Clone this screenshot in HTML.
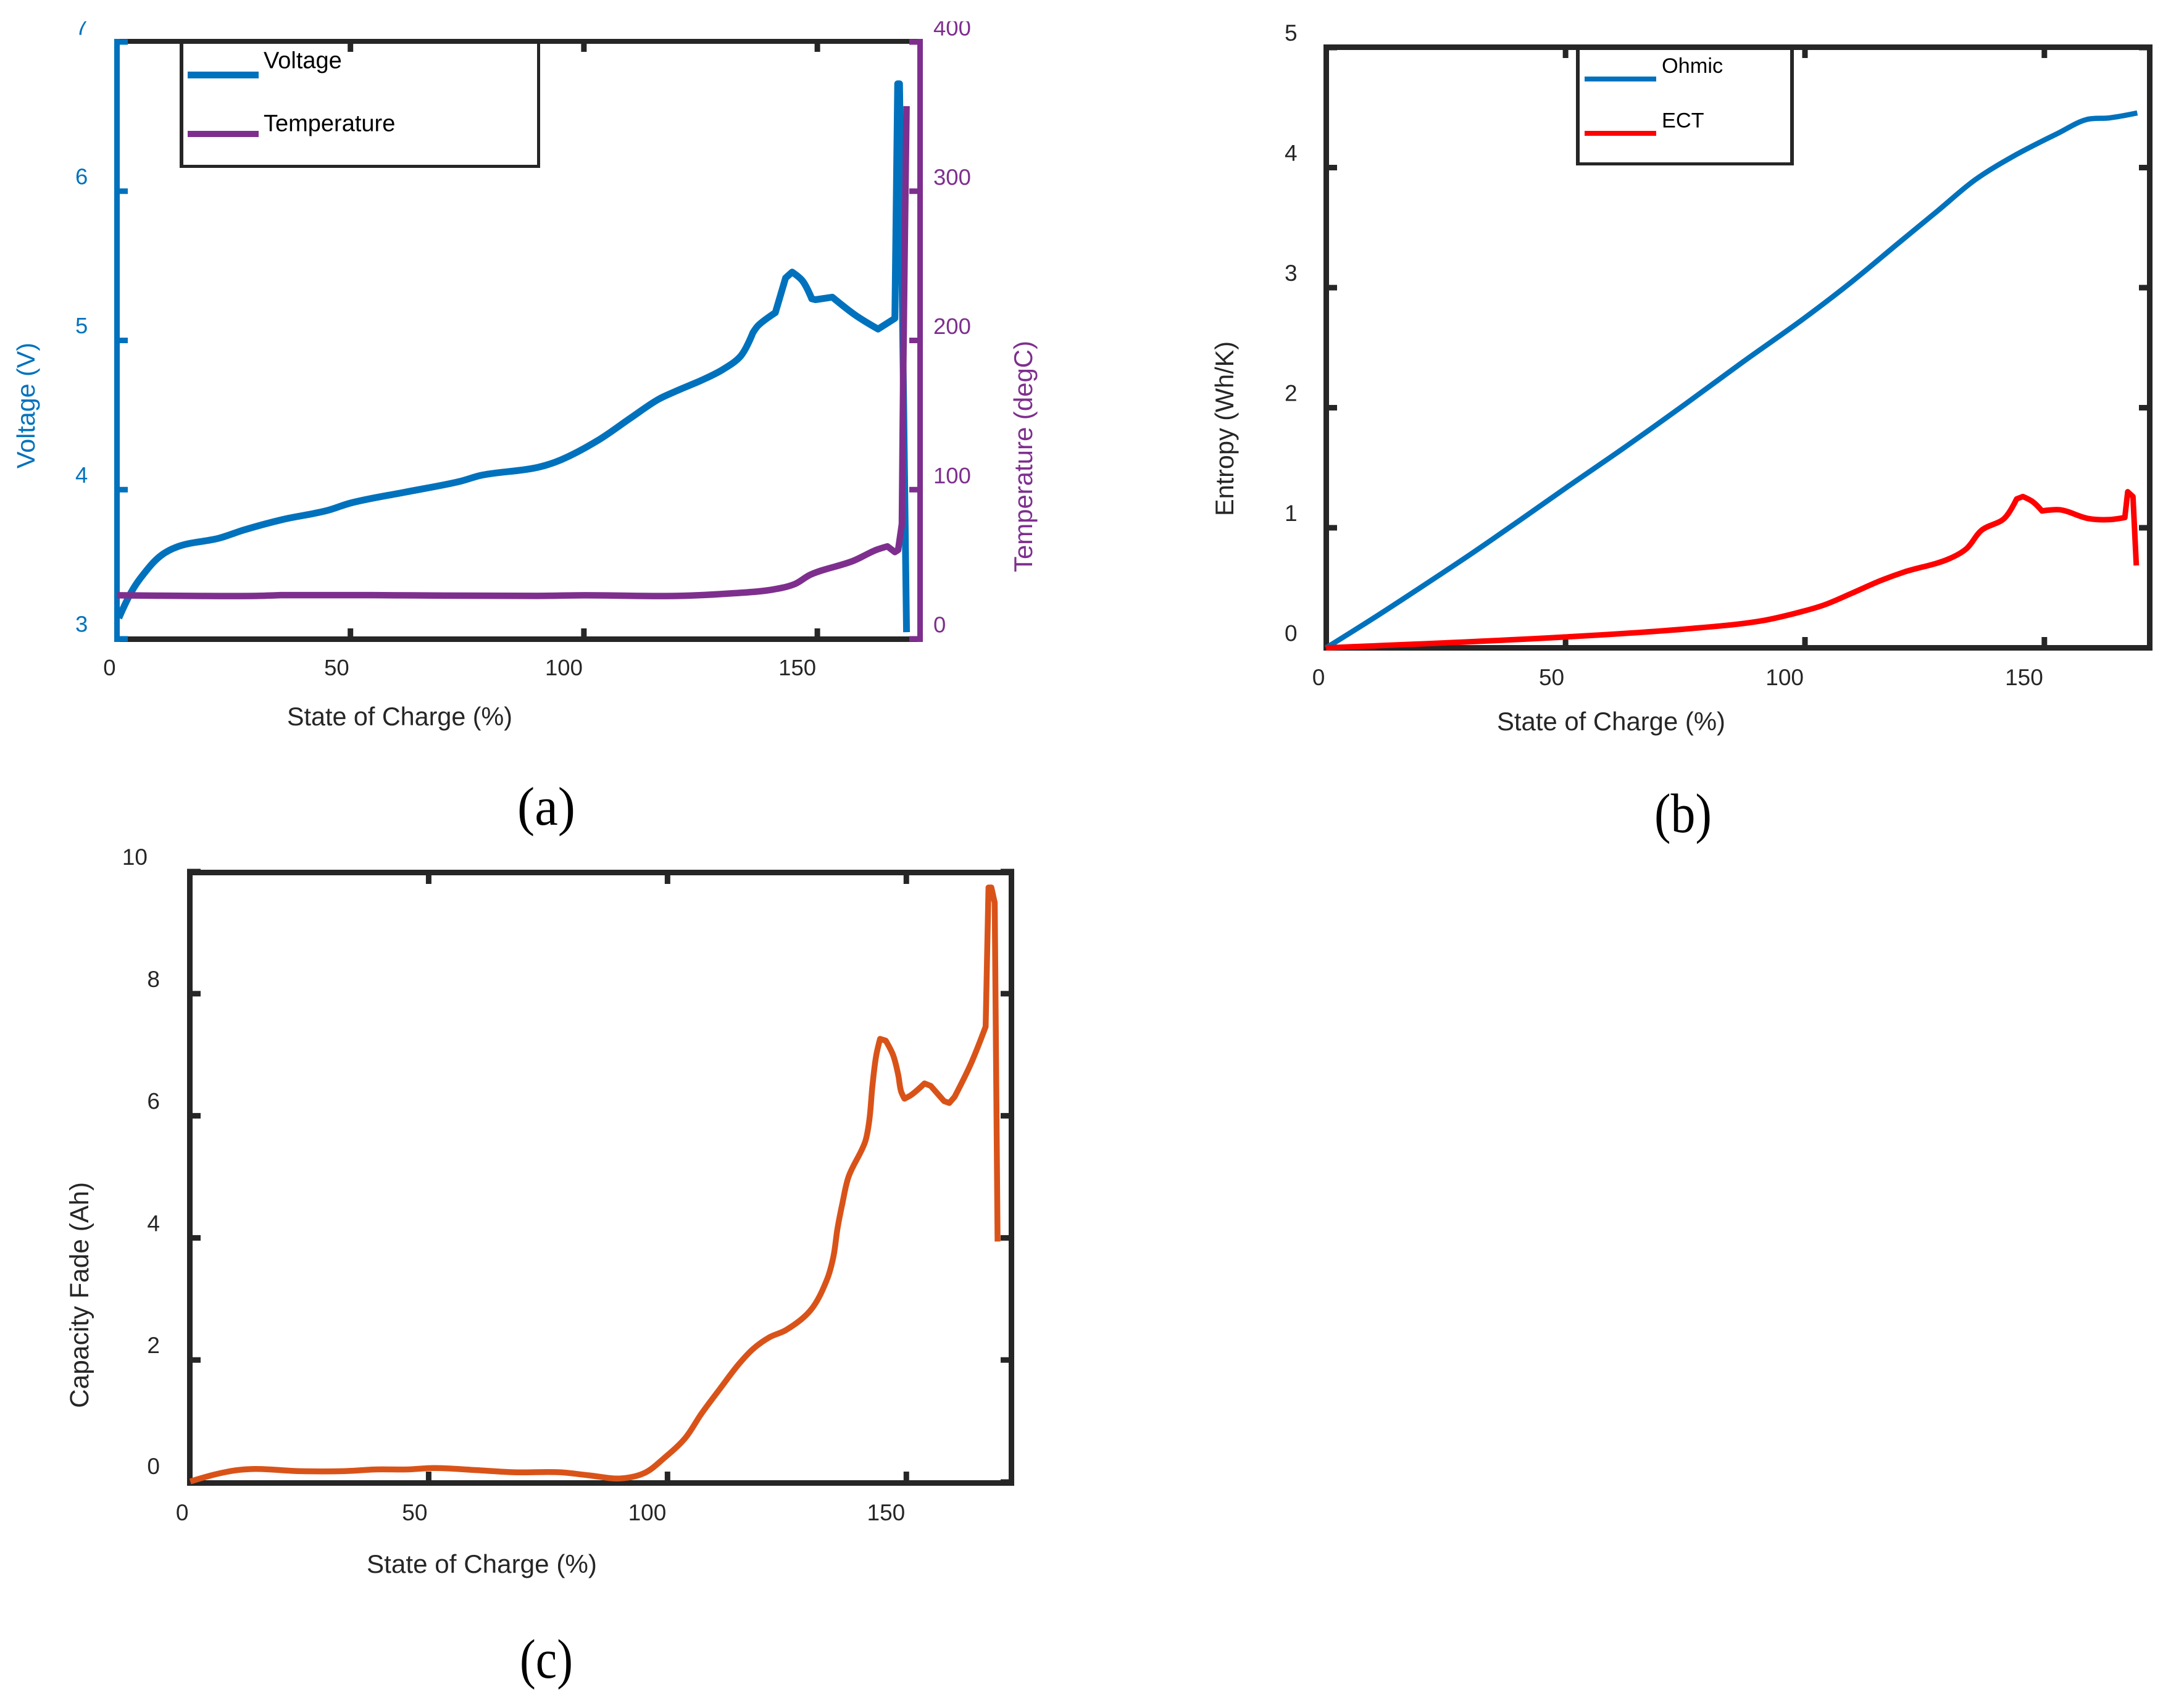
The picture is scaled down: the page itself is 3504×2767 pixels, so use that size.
<!DOCTYPE html>
<html lang="en">
<head>
<meta charset="utf-8">
<title>Battery state of charge charts</title>
<style>
html,body{margin:0;padding:0;background:#fff;}
svg{display:block;}
text{font-family:"Liberation Sans",Arial,sans-serif;}
.cap{font-family:"Liberation Serif","Times New Roman",serif;fill:#000;}
</style>
</head>
<body>
<svg id="figure" xmlns="http://www.w3.org/2000/svg" width="3504" height="2767" viewBox="0 0 3504 2767">
  <defs>
    <clipPath id="clip-a"><rect x="0" y="34.5" width="1700" height="1300"/></clipPath>
  </defs>
  <rect x="0" y="0" width="3504" height="2767" fill="#fff"/>
  <g id="panel-a"></g>
  <g id="panel-b"></g>
  <g id="panel-c"></g>

  <text x="465" y="1175" font-size="41.5" fill="#262626" textLength="365" lengthAdjust="spacingAndGlyphs">State of Charge (%)</text>
  <text transform="translate(56,759) rotate(-90)" font-size="41" fill="#0072BD" textLength="204" lengthAdjust="spacingAndGlyphs">Voltage (V)</text>
  <text transform="translate(1672,927) rotate(-90)" font-size="41.4" fill="#7E2F8E" textLength="375" lengthAdjust="spacingAndGlyphs">Temperature (degC)</text>

  <text x="2425" y="1183" font-size="41.5" fill="#262626" textLength="370" lengthAdjust="spacingAndGlyphs">State of Charge (%)</text>
  <text transform="translate(1998,836) rotate(-90)" font-size="41.4" fill="#262626" textLength="283" lengthAdjust="spacingAndGlyphs">Entropy (Wh/K)</text>

  <text x="594" y="2548" font-size="41.5" fill="#262626" textLength="373" lengthAdjust="spacingAndGlyphs">State of Charge (%)</text>
  <text transform="translate(143,2281) rotate(-90)" font-size="42.5" fill="#262626" textLength="366" lengthAdjust="spacingAndGlyphs">Capacity Fade (Ah)</text>

  <text class="cap" x="838" y="1336" font-size="88" textLength="94" lengthAdjust="spacingAndGlyphs">(a)</text>
  <text class="cap" x="2680" y="1348" font-size="90" textLength="93" lengthAdjust="spacingAndGlyphs">(b)</text>
  <text class="cap" x="842" y="2718" font-size="90" textLength="86" lengthAdjust="spacingAndGlyphs">(c)</text>

  <g id="legend-a">
    <rect x="291" y="71" width="6" height="201" fill="#262626"/>
    <rect x="870" y="71" width="5" height="201" fill="#262626"/>
    <rect x="291" y="267" width="584" height="5" fill="#262626"/>
    <rect x="304" y="116" width="115" height="11" fill="#0072BD"/>
    <rect x="304" y="212" width="115" height="10" fill="#7E2F8E"/>
    <text x="427" y="110.7" font-size="38" fill="#000">Voltage</text>
    <text x="427" y="212.7" font-size="38" fill="#000">Temperature</text>
  </g>
  <g id="legend-b">
    <rect x="2553" y="81" width="6" height="187" fill="#262626"/>
    <rect x="2900" y="81" width="6" height="187" fill="#262626"/>
    <rect x="2553" y="263" width="353" height="5" fill="#262626"/>
    <rect x="2567" y="124" width="116" height="8" fill="#0072BD"/>
    <rect x="2567" y="212" width="116" height="8" fill="#FF0000"/>
    <text x="2692" y="118" font-size="34.3" fill="#000">Ohmic</text>
    <text x="2692" y="206.7" font-size="34.3" fill="#000">ECT</text>
  </g>
</svg>
<script>
// Panel (a) data
const voltageSoc = [0.4, 3, 5.1, 9.4, 13.2, 21.9, 27.2, 35.5, 45, 50, 62, 73.4, 78, 90.2, 95.1, 103, 110, 116, 120.3, 125.2, 129.8, 133.6, 136.2, 137.3, 141, 143.2, 144.6, 146.8, 148.8, 149.6, 153.2, 158.2, 163, 166.6, 167.2, 167.6, 169.1];
const voltageValues = [3.14, 3.31, 3.41, 3.558, 3.62, 3.675, 3.73, 3.80, 3.86, 3.91, 3.985, 4.055, 4.096, 4.15, 4.2, 4.33, 4.48, 4.606, 4.668, 4.733, 4.806, 4.896, 5.052, 5.099, 5.186, 5.419, 5.458, 5.40, 5.279, 5.273, 5.29, 5.168, 5.076, 5.148, 6.72, 6.72, 3.045];
const temperatureSoc = [0, 16, 30, 35, 55, 70, 90, 100, 120, 132.2, 140.2, 145.2, 148.5, 157.7, 162.6, 165, 166.6, 167.3, 168.1, 168.4, 169.1];
const temperatureValues = [29.2, 28.8, 28.8, 29.3, 29.3, 29, 28.8, 29.2, 28.8, 30.6, 32.9, 36.8, 43, 52.3, 59.6, 62, 58.2, 59.6, 77, 181, 357];
// Panel (b) data
const ohmicSoc = [0, 10, 20, 30, 40, 50, 62, 75, 87, 100, 109.8, 119.7, 127.9, 135.6, 144.2, 152.8, 158.8, 163.6, 169.4];
const ohmicValues = [0, 0.25, 0.51, 0.775, 1.05, 1.33, 1.66, 2.03, 2.38, 2.75, 3.05, 3.377, 3.646, 3.90, 4.11, 4.285, 4.40, 4.414, 4.455];
const ectSoc = [0, 49.7, 76, 90.8, 98.2, 104, 109.8, 115.8, 120.6, 130, 133.7, 136.9, 141.6, 144.2, 145.5, 147.6, 149.5, 153.2, 159.2, 163.6, 166.8, 167.4, 168.5, 169.2];
const ectValues = [0, 0.09, 0.16, 0.224, 0.29, 0.357, 0.455, 0.56, 0.63, 0.74, 0.825, 0.98, 1.077, 1.24, 1.26, 1.216, 1.14, 1.15, 1.077, 1.068, 1.085, 1.30, 1.26, 0.686];
// Panel (c) data
const fadeSoc = [0.1, 5, 9.4, 13.6, 22.6, 32.5, 39, 45.7, 51, 59.7, 67.9, 77.5, 83.6, 90.2, 95.2, 99.4, 103.7, 107.1, 111, 114.9, 117.9, 121.3, 124.8, 129.9, 133.4, 134.7, 135.6, 136.6, 137.9, 141.4, 142.2, 142.9, 143.7, 144.5, 145.7, 147.2, 148.3, 148.9, 149.6, 151, 153.8, 155.1, 157.9, 159, 160.1, 163.5, 166.6, 167.2, 167.8, 168.5, 169.1];
const fadeValues = [0.01, 0.12, 0.19, 0.215, 0.18, 0.18, 0.207, 0.207, 0.23, 0.197, 0.16, 0.16, 0.11, 0.06, 0.15, 0.40, 0.72, 1.12, 1.53, 1.93, 2.18, 2.37, 2.49, 2.81, 3.32, 3.68, 4.16, 4.56, 5.0, 5.58, 5.90, 6.49, 6.99, 7.26, 7.23, 7.0, 6.67, 6.40, 6.28, 6.34, 6.53, 6.49, 6.24, 6.21, 6.31, 6.85, 7.46, 9.74, 9.74, 9.49, 3.94];
// Tick labels
const socTicks = [0, 50, 100, 150];
const voltageTicks = [3, 4, 5, 6, 7];
const temperatureTicks = [0, 100, 200, 300, 400];
const entropyTicks = [0, 1, 2, 3, 4, 5];
const fadeTicks = [0, 2, 4, 6, 8, 10];

const SVG_NS = 'http://www.w3.org/2000/svg';
const INK = '#262626';
const BLUE = '#0072BD';
const PURPLE = '#7E2F8E';
const RED = '#FF0000';
const ORANGE = '#D95319';
const SOC_MAX = 172;

function linear(d0, d1, r0, r1) {
  return function (v) { return r0 + (v - d0) * (r1 - r0) / (d1 - d0); };
}
function make(tag, parent) {
  const el = document.createElementNS(SVG_NS, tag);
  parent.appendChild(el);
  return el;
}
function box(el, x, y, w, h, fill) {
  el.setAttribute('x', x);
  el.setAttribute('y', y);
  el.setAttribute('width', w);
  el.setAttribute('height', h);
  el.setAttribute('fill', fill);
}
function label(el, x, y, size, fill, anchor, value) {
  el.setAttribute('x', x);
  el.setAttribute('y', y);
  el.setAttribute('font-size', size);
  el.setAttribute('fill', fill);
  el.setAttribute('text-anchor', anchor);
  el.textContent = String(value);
}
// Smooth path through the scaled data; sharp turns and abrupt length changes stay as corners.
function pathFrom(xs, ys, sx, sy) {
  const pts = xs.map(function (x, i) { return [sx(x), sy(ys[i])]; });
  const tangents = pts.map(function (p, i) {
    if (i === 0 || i === pts.length - 1) { return null; }
    const a = [p[0] - pts[i - 1][0], p[1] - pts[i - 1][1]];
    const b = [pts[i + 1][0] - p[0], pts[i + 1][1] - p[1]];
    const la = Math.hypot(a[0], a[1]) || 1;
    const lb = Math.hypot(b[0], b[1]) || 1;
    const cos = (a[0] * b[0] + a[1] * b[1]) / (la * lb);
    if (cos < 0.85 || Math.max(la, lb) / Math.min(la, lb) > 3) { return null; }
    const t = [a[0] / la + b[0] / lb, a[1] / la + b[1] / lb];
    const lt = Math.hypot(t[0], t[1]) || 1;
    return [t[0] / lt, t[1] / lt];
  });
  let d = 'M' + pts[0][0].toFixed(2) + ' ' + pts[0][1].toFixed(2);
  for (let i = 1; i < pts.length; i++) {
    const p0 = pts[i - 1];
    const p1 = pts[i];
    const len = Math.hypot(p1[0] - p0[0], p1[1] - p0[1]) / 3;
    const t0 = tangents[i - 1];
    const t1 = tangents[i];
    const c0 = t0 ? [p0[0] + t0[0] * len, p0[1] + t0[1] * len] : p0;
    const c1 = t1 ? [p1[0] - t1[0] * len, p1[1] - t1[1] * len] : p1;
    d += ' C' + c0[0].toFixed(2) + ' ' + c0[1].toFixed(2) + ' ' + c1[0].toFixed(2) + ' ' + c1[1].toFixed(2) + ' ' + p1[0].toFixed(2) + ' ' + p1[1].toFixed(2);
  }
  return d;
}
function drawLine(el, xs, ys, sx, sy, color, width) {
  el.setAttribute('d', pathFrom(xs, ys, sx, sy));
  el.setAttribute('fill', 'none');
  el.setAttribute('stroke', color);
  el.setAttribute('stroke-width', width);
  el.setAttribute('stroke-linejoin', 'round');
  el.setAttribute('stroke-linecap', 'butt');
}

function drawXAxis(g, sx, top, bottom, baseline, size, tickLen) {
  socTicks.forEach(function (t) {
    if (t > 0) {
      const lower = make('rect', g);
      box(lower, sx(t) - 4.5, bottom - tickLen, 9, tickLen, INK);
      
      
      const upper = make('rect', g);
      box(upper, sx(t) - 4.5, top, 9, tickLen, INK);
      
      
    }
    const txt = make('text', g);
    label(txt, sx(t) - 2, baseline, size, INK, 'end', t);
    
    
  });
}
function drawYAxis(g, ticks, sy, tickX, tickW, color, labelX, size, offset, side) {
  ticks.forEach(function (t) {
    const tick = make('rect', g);
    box(tick, tickX, sy(t) - 4.5, tickW, 9, color);
    
    
    const txt = make('text', g);
    label(txt, labelX, sy(t) + offset, size, color, 'start', t);
    
    
  });
}

/* Panel (a) */
(function () {
  const g = document.getElementById('panel-a');
  const sx = linear(0, SOC_MAX, 189.5, 1490.5);
  const sV = linear(3, 7, 1035, 68);
  const sT = linear(0, 400, 1035, 68);
  const topBar = make('rect', g);
  box(topBar, 185, 63, 1310, 8, INK);
  
  
  const bottomBar = make('rect', g);
  box(bottomBar, 185, 1031, 1310, 9, INK);
  
  
  const leftBar = make('rect', g);
  box(leftBar, 185, 63, 9, 977, BLUE);
  
  
  const rightBar = make('rect', g);
  box(rightBar, 1486, 63, 9, 977, PURPLE);
  
  
  drawXAxis(g, sx, 71, 1031, 1094, 36.5, 13);
  const labels = make('g', g);
  labels.setAttribute('clip-path', 'url(#clip-a)');
  
  
  drawYAxis(labels, voltageTicks, sV, 185, 22, BLUE, 122, 36.5, -11.5, 'voltage');
  drawYAxis(labels, temperatureTicks, sT, 1473, 22, PURPLE, 1512, 36.5, -10.5, 'temperature');
  const vLine = make('path', g);
  drawLine(vLine, voltageSoc, voltageValues, sx, sV, BLUE, 11);
  
  
  const tLine = make('path', g);
  drawLine(tLine, temperatureSoc, temperatureValues, sx, sT, PURPLE, 10.5);
  
  
})();

/* Panel (b) */
(function () {
  const g = document.getElementById('panel-b');
  const sx = linear(0, SOC_MAX, 2148.3, 3482.5);
  const sy = linear(0, 5, 1049.5, 77);
  const topBar = make('rect', g);
  box(topBar, 2144, 72, 1343, 9, INK);
  
  
  const bottomBar = make('rect', g);
  box(bottomBar, 2144, 1045, 1343, 9, INK);
  
  
  const leftBar = make('rect', g);
  box(leftBar, 2144, 72, 9, 982, INK);
  
  
  const rightBar = make('rect', g);
  box(rightBar, 3478, 72, 9, 982, INK);
  
  
  drawXAxis(g, sx, 81, 1045, 1110, 37, 13);
  drawYAxis(g, entropyTicks, sy, 2144, 22, INK, 2081, 37, -11, 'entropy');
  entropyTicks.forEach(function (t) {
    const tick = make('rect', g);
    box(tick, 3465, sy(t) - 4.5, 22, 9, INK);
    
    
  });
  const oLine = make('path', g);
  drawLine(oLine, ohmicSoc, ohmicValues, sx, sy, BLUE, 8.5);
  
  
  const eLine = make('path', g);
  drawLine(eLine, ectSoc, ectValues, sx, sy, RED, 9);
  
  
})();

/* Panel (c) */
(function () {
  const g = document.getElementById('panel-c');
  const sx = linear(0, SOC_MAX, 307.5, 1638.5);
  const sy = linear(0, 10, 2401, 1412);
  const topBar = make('rect', g);
  box(topBar, 303, 1409, 1340, 9, INK);
  
  
  const bottomBar = make('rect', g);
  box(bottomBar, 303, 2398, 1340, 9, INK);
  
  
  const leftBar = make('rect', g);
  box(leftBar, 303, 1409, 9, 998, INK);
  
  
  const rightBar = make('rect', g);
  box(rightBar, 1634, 1409, 9, 998, INK);
  
  
  drawXAxis(g, sx, 1418, 2398, 2463, 37, 14);
  fadeTicks.forEach(function (t) {
    const left = make('rect', g);
    box(left, 303, sy(t) - 4.5, 22, 9, INK);
    
    
    const right = make('rect', g);
    box(right, 1621, sy(t) - 4.5, 22, 9, INK);
    
    
    const txt = make('text', g);
    label(txt, 259, sy(t) - (t === 0 ? 13 : 11), 37, INK, 'end', t);
    if (t === 10) { txt.setAttribute('x', 239); }
    
    
  });
  const fLine = make('path', g);
  drawLine(fLine, fadeSoc, fadeValues, sx, sy, ORANGE, 9.5);
  
  
})();
</script>
</body>
</html>
